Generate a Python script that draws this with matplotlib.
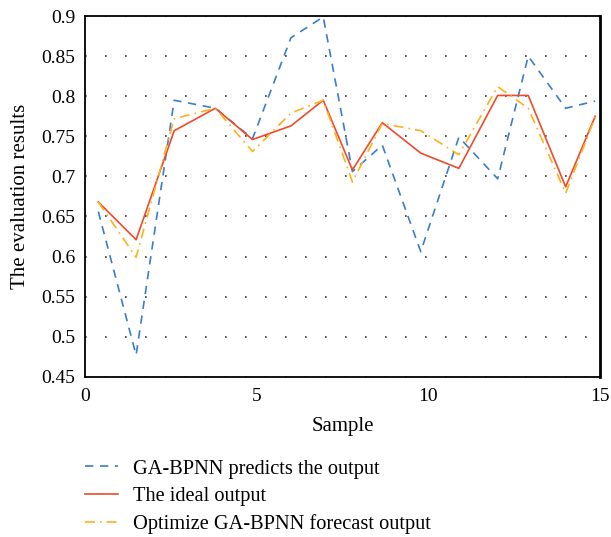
import matplotlib
matplotlib.use("Agg")
import matplotlib.pyplot as plt

plt.rcParams['font.family'] = ['Liberation Serif', 'DejaVu Serif']

sample = [0.39, 1.49, 2.60, 3.80, 4.88, 6.0, 6.94, 7.79, 8.66, 9.78, 10.89, 12.02, 12.91, 14.0, 14.86]
ga_bpnn = [0.656, 0.477, 0.795, 0.785, 0.747, 0.873, 0.899, 0.706, 0.739, 0.606,
           0.749, 0.697, 0.850, 0.785, 0.794]
ideal = [0.668, 0.621, 0.757, 0.785, 0.746, 0.763, 0.795, 0.708, 0.767, 0.729,
         0.710, 0.801, 0.801, 0.687, 0.775]
optimized = [0.668, 0.599, 0.772, 0.785, 0.731, 0.779, 0.795, 0.693, 0.766, 0.757,
             0.727, 0.812, 0.785, 0.679, 0.774]

fig = plt.figure(figsize=(6.11, 5.37), dpi=100)
ax = fig.add_axes([0.139, 0.2985, 0.843, 0.6715])

ax.plot(sample, ga_bpnn, color="#3a7dc9", linestyle=(0, (5, 4)), linewidth=1.2,
        label="GA-BPNN predicts the output")
ax.plot(sample, ideal, color="#f04a2a", linewidth=1.2, label="The ideal output")
ax.plot(sample, optimized, color="#ffb11b", linestyle=(0, (6, 3, 1, 3)), linewidth=1.2,
        label="Optimize GA-BPNN forecast output")

ax.set_xlim(0, 15)
ax.set_ylim(0.45, 0.9)
ax.set_xticks([0, 5, 10, 15])
ax.set_yticks([0.45, 0.5, 0.55, 0.6, 0.65, 0.7, 0.75, 0.8, 0.85, 0.9])
ax.set_yticklabels(["0.45", "0.5", "0.55", "0.6", "0.65", "0.7", "0.75", "0.8", "0.85", "0.9"])
ax.tick_params(length=0, labelsize=14)
ax.tick_params(axis="x", pad=8)
ax.tick_params(axis="y", pad=7)
ax.yaxis.grid(True, linestyle=(0, (1, 11)), color="#333333", linewidth=1.2)
for s in ax.spines.values():
    s.set_linewidth(1.3)
ax.spines["right"].set_linewidth(2)

ax.set_xlabel("Sample", fontsize=15, labelpad=9)
ax.set_ylabel("The evaluation results", fontsize=15, labelpad=8)

ax.legend(loc="upper left", bbox_to_anchor=(0.126, 0.16), bbox_transform=fig.transFigure,
          borderaxespad=0, frameon=False, fontsize=14.7,
          handlelength=1.6, labelspacing=0.4, handletextpad=0.75)

plt.savefig("out.png", dpi=100)
